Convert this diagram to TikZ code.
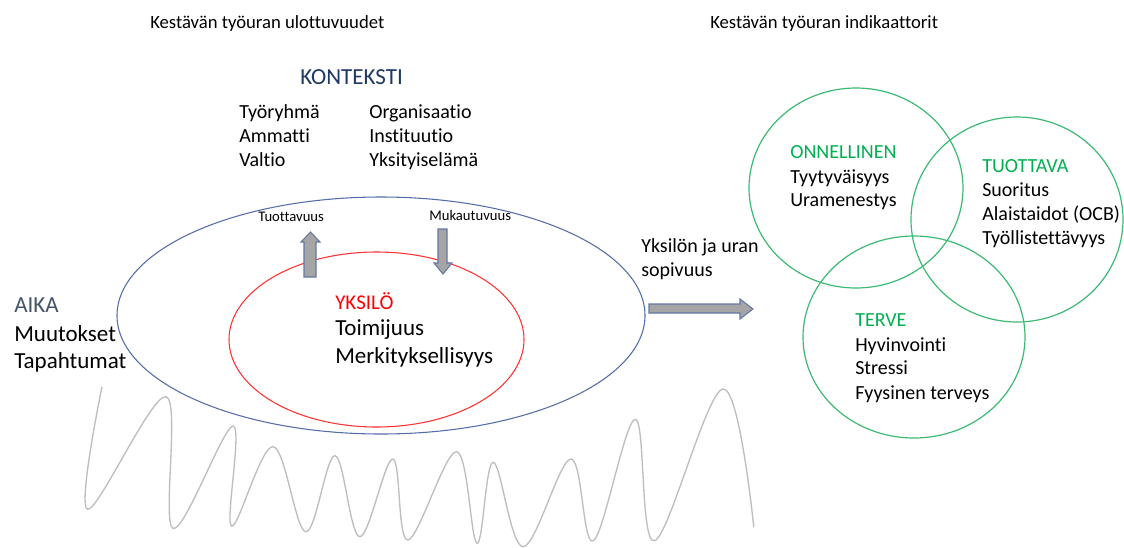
\documentclass[tikz,border=0pt]{standalone}
\usepackage{fontspec}
\setmainfont{Carlito}[Ligatures=NoCommon]
\usetikzlibrary{shapes.geometric}
\definecolor{txt}{RGB}{0,0,0}
\definecolor{ctxblue}{RGB}{84,110,170}
\definecolor{indred}{RGB}{255,50,50}
\definecolor{ringgreen}{RGB}{60,185,115}
\definecolor{labgreen}{RGB}{0,176,80}
\definecolor{navy}{RGB}{32,56,100}
\definecolor{slate}{RGB}{68,84,106}
\definecolor{wavegray}{RGB}{190,190,190}
\definecolor{arrfill}{RGB}{165,165,165}
\definecolor{arrline}{RGB}{100,120,165}
\tikzset{
  lbl/.style={anchor=base west, inner sep=0pt, text=txt},
  fs/.style={font=\fontsize{11}{13}\selectfont},
  ft/.style={font=\fontsize{14}{17}\selectfont},
  fm/.style={font=\fontsize{15}{18}\selectfont},
  fl/.style={font=\fontsize{17.25}{21}\selectfont},
  ring/.style={ellipse, draw=ringgreen, line width=0.9pt, inner sep=0pt},
  barrow/.style={draw=arrline, fill=arrfill, line width=0.8pt, line join=miter},
}
\begin{document}
\begin{tikzpicture}[x=0.75pt,y=-0.75pt]
\useasboundingbox[fill=white] (0,0) rectangle (1124,547);
% titles
\node[lbl,ft] (t1) at (150,28) {Kestävän työuran ulottuvuudet};
\node[lbl,ft] (t2) at (710,28) {Kestävän työuran indikaattorit};
% context
\node[lbl,fl,text=navy] (kon) at (300,84) {KONTEKSTI};
\node[lbl,fm] (k1) at (239,118.5) {Työryhmä};
\node[lbl,fm] (k2) at (239,142.5) {Ammatti};
\node[lbl,fm] (k3) at (239,166.5) {Valtio};
\node[lbl,fm] (k4) at (369,118.5) {Organisaatio};
\node[lbl,fm] (k5) at (369,142.5) {Instituutio};
\node[lbl,fm] (k6) at (369,166.5) {Yksityiselämä};
% wave
\draw[wavegray, line width=1pt] plot[smooth, tension=0.6] coordinates {
 (102,386.7) (87.7,509.3) (166,396.7) (173,528.3) (233,426) (231.5,526)
 (273,446.7) (305.7,531.7) (335,455.7) (359.7,536.7) (392.8,459) (408,540)
 (456.5,451.7) (477,543.3) (493.3,462.3) (523.3,546.7) (570.8,459) (593.4,540.7)
 (635.3,419.3) (654.7,540.7) (723,389) (753.8,527.3)};
% ellipses
\node[ellipse, draw=ctxblue, line width=0.8pt, inner sep=0pt, minimum width=396pt, minimum height=177.75pt] (ctx) at (381,315.5) {};
\node[ellipse, draw=indred, line width=0.8pt, inner sep=0pt, minimum width=221.25pt, minimum height=131.25pt] (ind) at (376.5,339.5) {};
% small arrows
\draw[barrow] (304,277) -- (304,242) -- (301,242) -- (310.5,232) -- (320,242) -- (316,242) -- (316,277) -- cycle;
\draw[barrow] (438,229) -- (438,263) -- (434,263) -- (443,274) -- (452,263) -- (447,263) -- (447,229) -- cycle;
\node[lbl,fs] (tv) at (258,221.7) {Tuottavuus};
\node[lbl,fs] (mv) at (429,220) {Mukautuvuus};
% individual
\node[lbl,font=\fontsize{15.75}{19}\selectfont,text=red] (yk) at (335,309) {YKSILÖ};
\node[lbl,fl] (y1) at (335,335.5) {Toimijuus};
\node[lbl,fl] (y2) at (335,363.5) {Merkityksellisyys};
% time
\node[lbl,fl,text=slate] (aika) at (14,312.5) {AIKA};
\node[lbl,fl] (a1) at (14,341.5) {Muutokset};
\node[lbl,fl] (a2) at (14,368.5) {Tapahtumat};
% fit
\node[lbl,fm] (s1) at (641,252.5) {Yksilön ja uran};
\node[lbl,fm] (s2) at (641,276.5) {sopivuus};
\draw[barrow] (649,304) -- (740,304) -- (740,299) -- (753,309) -- (740,319) -- (740,313) -- (649,313) -- cycle;
% indicator rings
\node[ring, minimum width=160.5pt, minimum height=150pt] (onn) at (856,188) {};
\node[ring, minimum width=159pt, minimum height=153.75pt] (tuo) at (1017,219.5) {};
\node[ring, minimum width=166.5pt, minimum height=151.5pt] (ter) at (914,337) {};
\node[lbl,fm,text=labgreen] (o0) at (790,158.5) {ONNELLINEN};
\node[lbl,fm] (o1) at (790,183.5) {Tyytyväisyys};
\node[lbl,fm] (o2) at (790,206.5) {Uramenestys};
\node[lbl,fm,text=labgreen] (p0) at (982,172.5) {TUOTTAVA};
\node[lbl,fm] (p1) at (982,196.5) {Suoritus};
\node[lbl,fm] (p2) at (982,220.5) {Alaistaidot (OCB)};
\node[lbl,fm] (p3) at (982,244.5) {Työllistettävyys};
\node[lbl,fm,text=labgreen] (r0) at (855,326.5) {TERVE};
\node[lbl,fm] (r1) at (855,351.5) {Hyvinvointi};
\node[lbl,fm] (r2) at (855,374.5) {Stressi};
\node[lbl,fm] (r3) at (855,399.5) {Fyysinen terveys};
\end{tikzpicture}
\end{document}
